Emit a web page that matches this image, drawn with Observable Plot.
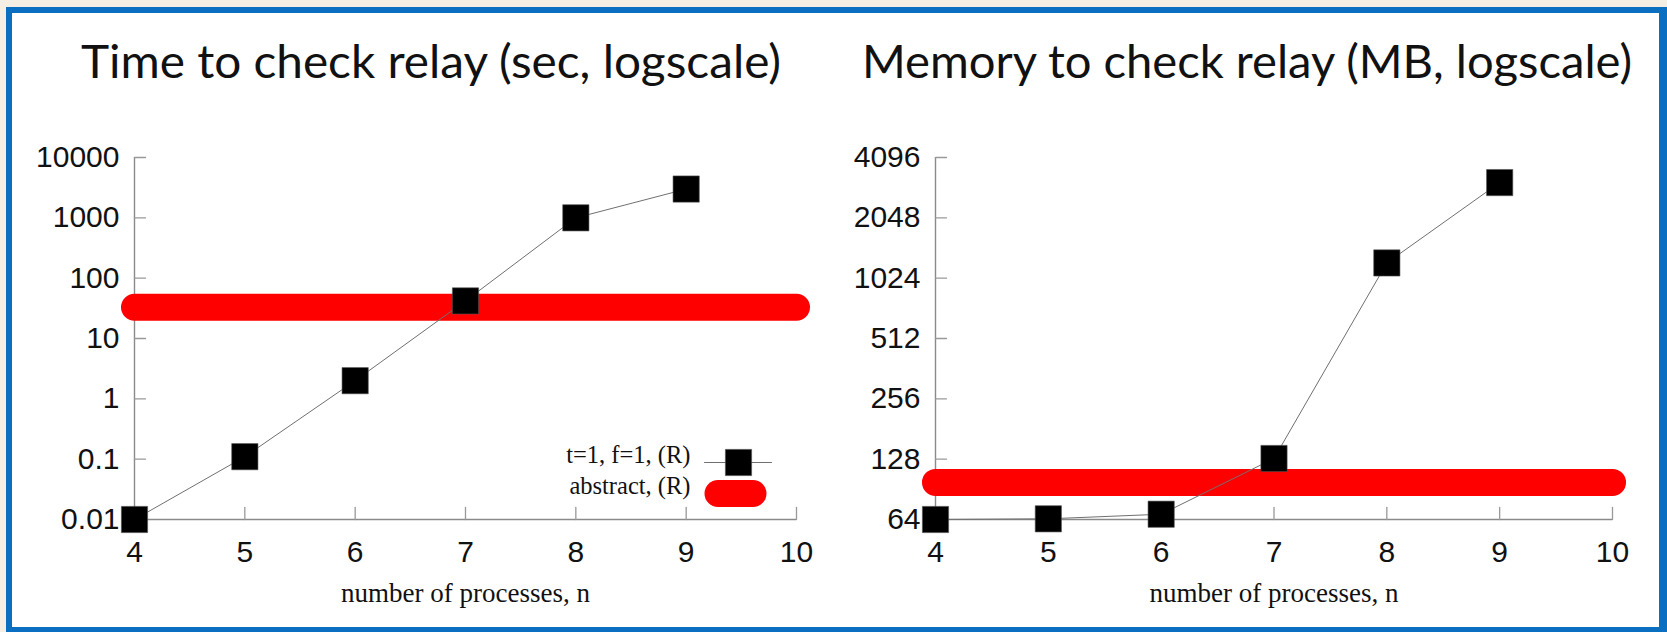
<!DOCTYPE html>
<html><head><meta charset="utf-8">
<script src="https://cdn.jsdelivr.net/npm/d3@7"></script>
<script src="https://cdn.jsdelivr.net/npm/@observablehq/plot@0.6"></script>
<style>
html,body{margin:0;padding:0;width:1667px;height:632px;overflow:hidden;background:#f4eee4;}
#frame{position:absolute;left:6px;top:7px;width:1661px;height:625px;box-sizing:border-box;border:6px solid #0a6fc0;border-right-width:8px;border-bottom-width:5px;background:#fff;}
.chart{position:absolute;top:100px;}
#titles{position:absolute;left:0;top:0;pointer-events:none;}
</style></head><body>
<div id="frame"></div>
<div id="left" class="chart" style="left:0px"></div>
<div id="right" class="chart" style="left:840px"></div>
<svg id="titles" width="1667" height="632"></svg>
<script>
// ---- data ----
const n = [4, 5, 6, 7, 8, 9];
const timeSec = [0.01, 0.11, 2, 42, 1000, 3000];
const memMB = [64, 64.5, 68, 129, 1220, 3070];
const abstractN = [4, 10];
const abstractTime = [33, 33];
const abstractMem = [98, 98];
const xTicks = [4, 5, 6, 7, 8, 9, 10];
const timeTicks = [0.01, 0.1, 1, 10, 100, 1000, 10000];
const timeTickLabels = ["0.01", "0.1", "1", "10", "100", "1000", "10000"];
const memTicks = [64, 128, 256, 512, 1024, 2048, 4096];
const memTickLabels = ["64", "128", "256", "512", "1024", "2048", "4096"];
const legendLabels = ["t=1, f=1, (R)", "abstract, (R)"];
const chartTitles = ["Time to check relay (sec, logscale)", "Memory to check relay (MB, logscale)"];
const xLabel = "number of processes, n";

const tickShape = {draw(ctx, l) { ctx.moveTo(0, 0); ctx.lineTo(0, -l); }};

function chart({values, abstract, base, domain, ticks, labels, width, marginLeft, marginRight, legend}) {
  const rows = n.map((d, i) => ({n: d, v: values[i]}));
  const arows = abstractN.map((d, i) => ({n: d, v: abstract[i]}));
  const marks = [
    Plot.ruleY([domain[0]], {stroke: "#8a8a8a", strokeWidth: 1.4}),
    Plot.ruleX([4], {stroke: "#8a8a8a", strokeWidth: 1.4}),
    Plot.vector(ticks, {y: d => d, frameAnchor: "left", rotate: 90, length: 11, anchor: "start", shape: tickShape, stroke: "#999", strokeWidth: 1.3}),
    Plot.vector(xTicks, {x: d => d, frameAnchor: "bottom", rotate: 0, length: 12, anchor: "start", shape: tickShape, stroke: "#999", strokeWidth: 1.3}),
    Plot.axisY({ticks, tickFormat: d => labels[ticks.indexOf(d)], tickSize: 0, tickPadding: 15, fontSize: 30, label: null}),
    Plot.axisX({ticks: xTicks, tickFormat: d => String(d), tickSize: 0, tickPadding: 21, fontSize: 30, label: null}),
    Plot.text([xLabel], {text: d => d, frameAnchor: "bottom", dy: 82, fontFamily: "Liberation Serif", fontSize: 27, fill: "#111"}),
    Plot.line(arows, {x: "n", y: "v", stroke: "#ff0000", strokeWidth: 27, strokeLinecap: "round"}),
    Plot.line(rows, {x: "n", y: "v", stroke: "#707070", strokeWidth: 1}),
    Plot.dot(rows, {x: "n", y: "v", symbol: "square", r: 14.8, fill: "#000", stroke: "#555", strokeWidth: 0.6})
  ];
  if (legend) {
    marks.push(
      Plot.text([legendLabels[0]], {text: d => d, frameAnchor: "bottom-right", dx: -106, dy: -57, textAnchor: "end", fontFamily: "Liberation Serif", fontSize: 24.5, fill: "#111"}),
      Plot.text([legendLabels[1]], {text: d => d, frameAnchor: "bottom-right", dx: -106, dy: -26, textAnchor: "end", fontFamily: "Liberation Serif", fontSize: 24.5, fill: "#111"}),
      Plot.vector([0], {frameAnchor: "bottom-right", dx: -92, dy: -57, rotate: 90, length: 67, anchor: "start", shape: tickShape, stroke: "#707070", strokeWidth: 1}),
      Plot.dot([0], {frameAnchor: "bottom-right", dx: -58, dy: -57, symbol: "square", r: 14.8, fill: "#000", stroke: "#555", strokeWidth: 0.6}),
      Plot.vector([0], {frameAnchor: "bottom-right", dx: -78.5, dy: -26, rotate: 90, length: 35, anchor: "start", shape: tickShape, stroke: "#ff0000", strokeWidth: 27, strokeLinecap: "round"})
    );
  }
  return Plot.plot({
    width, height: 527, marginLeft, marginRight, marginTop: 57, marginBottom: 108,
    x: {domain: [4, 10]},
    y: {type: "log", base, domain},
    style: {fontFamily: "Liberation Sans", background: "transparent", overflow: "visible", color: "#111"},
    marks
  });
}

document.getElementById("left").append(chart({
  values: timeSec, abstract: abstractTime, base: 10, domain: [0.01, 10000],
  ticks: timeTicks, labels: timeTickLabels, width: 840, marginLeft: 134, marginRight: 44, legend: true
}));
document.getElementById("right").append(chart({
  values: memMB, abstract: abstractMem, base: 2, domain: [64, 4096],
  ticks: memTicks, labels: memTickLabels, width: 820, marginLeft: 95, marginRight: 48, legend: false
}));

// titles
const svg = d3.select("#titles");
const titlePos = [{x: 81, w: 700}, {x: 862, w: 770}];
chartTitles.forEach((t, i) => {
  svg.append("text").attr("x", titlePos[i].x).attr("y", 78)
    .attr("textLength", titlePos[i].w).attr("lengthAdjust", "spacingAndGlyphs")
    .attr("font-family", "Lato").attr("font-size", 47).attr("fill", "#111").text(t);
});
</script>
</body></html>
